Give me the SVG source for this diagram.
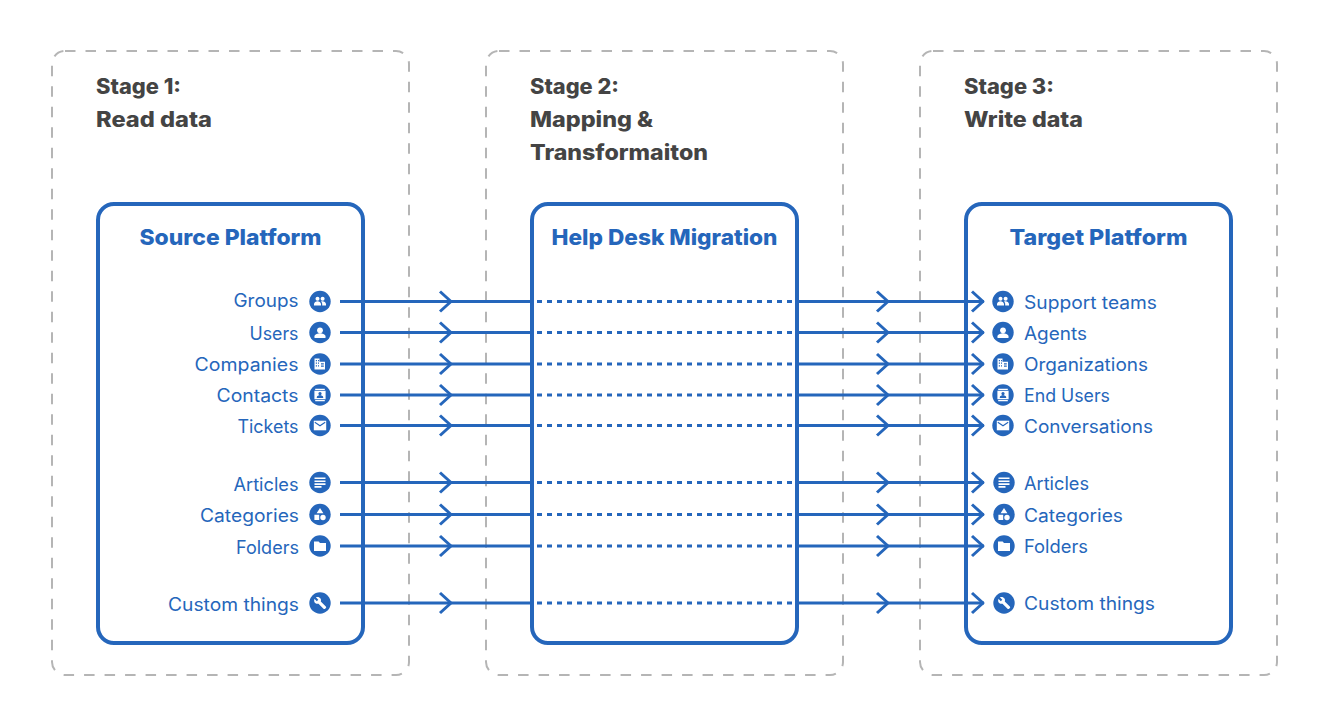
<svg xmlns="http://www.w3.org/2000/svg" width="1329" height="717" viewBox="0 0 1329 717">
<style>
text{font-family:"Inter","Noto Sans","Liberation Sans",sans-serif}
.stage{fill:none;stroke:#b5b5b5;stroke-width:2;stroke-dasharray:10.5 10}
.plat{fill:none;stroke:#2566bb;stroke-width:4}
.h{font-size:21px;font-weight:800;fill:#444}
.t{font-size:22px;font-weight:800;fill:#2566bb;text-anchor:middle}
.l{font-size:18px;font-weight:400;fill:#2566bb}
.e{text-anchor:end}
.c{fill:none;stroke:#2566bb;stroke-width:3;stroke-linejoin:round}
.d{fill:none;stroke:#2566bb;stroke-width:3;stroke-dasharray:5 5}
.i{fill:#2566bb}
.g{fill:#fff}
</style>
<defs>
<g id="chev"><path class="c" d="M-11 -10L0 0L-11 10"/></g>
<g id="groups"><circle class="i" r="10.7"/><path class="g" d="M-6 4v-1.5c0-1.7 2-2.8 3.5-2.8s3.5 1.1 3.5 2.8V4zM2.2 4v-1.6c0-1-.5-1.9-1.2-2.5 .5-.1 1-.2 1.5-.2 1.5 0 3.5 1.1 3.5 2.8V4z"/><circle class="g" cx="-2.5" cy="-2.7" r="2"/><circle class="g" cx="2.6" cy="-2.7" r="2"/></g>
<g id="user"><circle class="i" r="10.7"/><circle class="g" cy="-2.2" r="2.9"/><path class="g" d="M-5.5 5.4v-1.6c0-2 3.600-3 5.500-3s5.500 1 5.500 3v1.600z"/></g>
<g id="company"><circle class="i" r="10.7"/><path class="g" d="M-5.5 5.5v-11h5v3.2h5.5v7.8zM-4.2 -4v1.2h1.2V-4zM-2 -4v1.2h1V-4zM-4.2 -1.4v1.2h1.2v-1.2zM-2 -1.4v1.2h1v-1.2zM-4.2 1.2v1.2h1.2V1.2zM-2 1.2v1.2h1V1.2zM1 -.8v1.2h2.8v-1.2zM1 1.6v1.2h2.8V1.6z" fill-rule="evenodd"/></g>
<g id="contact"><circle class="i" r="10.7"/><path class="g" d="M-4.8 -6.2h9.6v1.1h-9.6zM-4.8 5.1h9.6v1.1h-9.6zM-5.6 -4.2h11.2v8.4h-11.2zM0 -3a1.6 1.6 0 1 0 .01 0zM-3.2 3h6.4v-.9c0-1.3-2.1-1.9-3.2-1.9s-3.2 .6-3.2 1.9z" fill-rule="evenodd"/></g>
<g id="mail"><circle class="i" r="10.7"/><path class="g" d="M-6.2 -4.800h12.4v9.600h-12.4z"/><path d="M-5.200 -3.200L0 .3L5.200 -3.200" fill="none" stroke="#2566bb" stroke-width="1.100"/></g>
<g id="article"><circle class="i" r="10.7"/><path class="g" d="M-5.5 -5h11v1.6h-11zM-5.5 -2.1h11v1.6h-11zM-5.5 .8h11v1.6h-11zM-5.5 3.6h7v1.6h-7z"/></g>
<g id="category"><circle class="i" r="10.7"/><path class="g" d="M0 -6.5L3.4 -1.2H-3.4zM-5.6 .3h4.8v5.2h-4.8z"/><circle class="g" cx="3" cy="3" r="2.7"/></g>
<g id="folder"><circle class="i" r="10.7"/><path class="g" d="M-6 -4.6h4.6l1.4 1.5h6v8h-12z"/></g>
<g id="wrench"><circle class="i" r="10.7"/><path class="g" d="M-5.6 -4.2l2.4 2.4l1.5 -1.5l-2.4 -2.4c1.7 -.8 3.7 -.3 4.6 1.2c.6 1 .6 2 .3 2.9l5 5c.5 .5 .5 1.2 0 1.7l-.6 .6c-.5 .5 -1.2 .5 -1.7 0l-5 -5c-1 .3 -2.1 .2 -3 -.4c-1.4 -.9 -1.8 -2.9 -.9 -4.5z"/></g>
</defs>

<g id="stage-1"><rect class="stage" x="52" y="51" width="357" height="624" rx="13"/>
<text class="h" x="96" y="94" textLength="85" lengthAdjust="spacingAndGlyphs">Stage 1:</text>
<text class="h" x="96" y="127" textLength="116" lengthAdjust="spacingAndGlyphs">Read data</text></g>
<g id="stage-2"><rect class="stage" x="486" y="51" width="357" height="624" rx="13"/>
<text class="h" x="530" y="94" textLength="89" lengthAdjust="spacingAndGlyphs">Stage 2:</text>
<text class="h" x="530" y="127" textLength="123" lengthAdjust="spacingAndGlyphs">Mapping &amp;</text>
<text class="h" x="530" y="160" textLength="178" lengthAdjust="spacingAndGlyphs">Transformaiton</text></g>
<g id="stage-3"><rect class="stage" x="920" y="51" width="357" height="624" rx="13"/>
<text class="h" x="964" y="94" textLength="90" lengthAdjust="spacingAndGlyphs">Stage 3:</text>
<text class="h" x="964" y="127" textLength="119" lengthAdjust="spacingAndGlyphs">Write data</text></g>

<g id="source-platform"><rect class="plat" x="98" y="204" width="265" height="439" rx="16"/>
<text class="t" x="230.500" y="245" textLength="182" lengthAdjust="spacingAndGlyphs">Source Platform</text></g>
<g id="help-desk-migration"><rect class="plat" x="532" y="204" width="265" height="439" rx="16"/>
<text class="t" x="664.500" y="245" textLength="226" lengthAdjust="spacingAndGlyphs">Help Desk Migration</text></g>
<g id="target-platform"><rect class="plat" x="966" y="204" width="265" height="439" rx="16"/>
<text class="t" x="1098.500" y="245" textLength="178" lengthAdjust="spacingAndGlyphs">Target Platform</text></g>

<g id="connectors">
<path class="c" d="M340 301.500H532M797 301.500H984M340 332.500H532M797 332.500H984M340 364H532M797 364H984M340 395H532M797 395H984M340 425.500H532M797 425.500H984M340 482.500H532M797 482.500H984M340 514.500H532M797 514.500H984M340 546H532M797 546H984M340 603H532M797 603H984"/>
<path class="d" d="M537 301.500H795M537 332.500H795M537 364H795M537 395H795M537 425.500H795M537 482.500H795M537 514.500H795M537 546H795M537 603H795"/>
<use href="#chev" x="451" y="301.500"/><use href="#chev" x="888" y="301.500"/><use href="#chev" x="983" y="301.500"/>
<use href="#chev" x="451" y="332.500"/><use href="#chev" x="888" y="332.500"/><use href="#chev" x="983" y="332.500"/>
<use href="#chev" x="451" y="364"/><use href="#chev" x="888" y="364"/><use href="#chev" x="983" y="364"/>
<use href="#chev" x="451" y="395"/><use href="#chev" x="888" y="395"/><use href="#chev" x="983" y="395"/>
<use href="#chev" x="451" y="425.500"/><use href="#chev" x="888" y="425.500"/><use href="#chev" x="983" y="425.500"/>
<use href="#chev" x="451" y="482.500"/><use href="#chev" x="888" y="482.500"/><use href="#chev" x="983" y="482.500"/>
<use href="#chev" x="451" y="514.500"/><use href="#chev" x="888" y="514.500"/><use href="#chev" x="983" y="514.500"/>
<use href="#chev" x="451" y="546"/><use href="#chev" x="888" y="546"/><use href="#chev" x="983" y="546"/>
<use href="#chev" x="451" y="603"/><use href="#chev" x="888" y="603"/><use href="#chev" x="983" y="603"/>
</g>

<g id="source-groups"><use href="#groups" x="320" y="301.500"/><text class="l e" x="298.500" y="307" textLength="65" lengthAdjust="spacingAndGlyphs">Groups</text></g>
<g id="source-users"><use href="#user" x="320" y="332.500"/><text class="l e" x="298.500" y="340" textLength="49" lengthAdjust="spacingAndGlyphs">Users</text></g>
<g id="source-companies"><use href="#company" x="320" y="364"/><text class="l e" x="298.500" y="371" textLength="104" lengthAdjust="spacingAndGlyphs">Companies</text></g>
<g id="source-contacts"><use href="#contact" x="320" y="395"/><text class="l e" x="298.500" y="402" textLength="82" lengthAdjust="spacingAndGlyphs">Contacts</text></g>
<g id="source-tickets"><use href="#mail" x="320" y="425.500"/><text class="l e" x="298.500" y="433" textLength="61" lengthAdjust="spacingAndGlyphs">Tickets</text></g>
<g id="source-articles"><use href="#article" x="320" y="482.500"/><text class="l e" x="298.500" y="491" textLength="65" lengthAdjust="spacingAndGlyphs">Articles</text></g>
<g id="source-categories"><use href="#category" x="320" y="514.500"/><text class="l e" x="299" y="522" textLength="99" lengthAdjust="spacingAndGlyphs">Categories</text></g>
<g id="source-folders"><use href="#folder" x="320" y="546"/><text class="l e" x="299" y="554" textLength="63" lengthAdjust="spacingAndGlyphs">Folders</text></g>
<g id="source-custom"><use href="#wrench" x="320" y="603"/><text class="l e" x="299" y="611" textLength="131" lengthAdjust="spacingAndGlyphs">Custom things</text></g>

<g id="target-support"><use href="#groups" x="1003" y="301.500"/><text class="l" x="1024" y="309" textLength="133" lengthAdjust="spacingAndGlyphs">Support teams</text></g>
<g id="target-agents"><use href="#user" x="1003" y="332.500"/><text class="l" x="1024" y="340" textLength="63" lengthAdjust="spacingAndGlyphs">Agents</text></g>
<g id="target-organizations"><use href="#company" x="1003" y="364"/><text class="l" x="1024" y="371" textLength="124" lengthAdjust="spacingAndGlyphs">Organizations</text></g>
<g id="target-endusers"><use href="#contact" x="1003" y="395"/><text class="l" x="1024" y="402" textLength="86" lengthAdjust="spacingAndGlyphs">End Users</text></g>
<g id="target-conversations"><use href="#mail" x="1003" y="425.500"/><text class="l" x="1024" y="433" textLength="129" lengthAdjust="spacingAndGlyphs">Conversations</text></g>
<g id="target-articles"><use href="#article" x="1004" y="482.500"/><text class="l" x="1024" y="490" textLength="65" lengthAdjust="spacingAndGlyphs">Articles</text></g>
<g id="target-categories"><use href="#category" x="1004" y="514.500"/><text class="l" x="1024" y="522" textLength="99" lengthAdjust="spacingAndGlyphs">Categories</text></g>
<g id="target-folders"><use href="#folder" x="1004" y="546"/><text class="l" x="1024" y="553" textLength="64" lengthAdjust="spacingAndGlyphs">Folders</text></g>
<g id="target-custom"><use href="#wrench" x="1004" y="603"/><text class="l" x="1024" y="610" textLength="131" lengthAdjust="spacingAndGlyphs">Custom things</text></g>
</svg>
